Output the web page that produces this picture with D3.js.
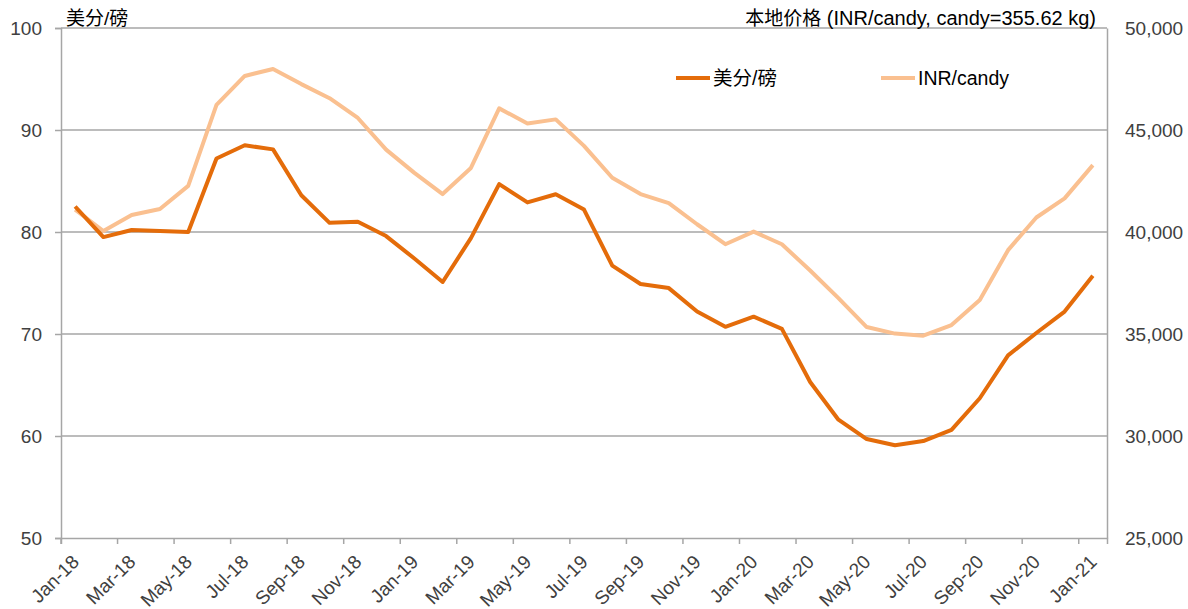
<!DOCTYPE html>
<html><head><meta charset="utf-8">
<script src="https://cdn.jsdelivr.net/npm/d3@7"></script>
<style>
body{margin:0;background:#fff;}
text{font-family:"Liberation Sans",Arial,"Noto Sans CJK SC",sans-serif;}
</style></head>
<body><svg id="c" width="1188" height="609"></svg>
<script>
const months = ["Jan-18","Feb-18","Mar-18","Apr-18","May-18","Jun-18","Jul-18","Aug-18","Sep-18","Oct-18","Nov-18","Dec-18",
"Jan-19","Feb-19","Mar-19","Apr-19","May-19","Jun-19","Jul-19","Aug-19","Sep-19","Oct-19","Nov-19","Dec-19",
"Jan-20","Feb-20","Mar-20","Apr-20","May-20","Jun-20","Jul-20","Aug-20","Sep-20","Oct-20","Nov-20","Dec-20","Jan-21"];
const centsPerLb = [82.5,79.5,80.2,80.1,80.0,87.2,88.5,88.1,83.6,80.9,81.0,79.6,
77.4,75.1,79.4,84.7,82.9,83.7,82.2,76.7,74.9,74.5,72.2,70.7,
71.7,70.5,65.3,61.6,59.7,59.1,59.5,60.6,63.7,67.9,70.1,72.2,75.7];
const inrPerCandy = [41100,40050,40830,41130,42260,46230,47650,47990,47250,46560,45590,44040,
42900,41860,43140,46060,45320,45520,44220,42660,41860,41420,40380,39400,
40020,39400,38110,36760,35340,35020,34920,35440,36670,39110,40710,41650,43280];
const leftTicks = [50,60,70,80,90,100];
const rightTicks = [25000,30000,35000,40000,45000,50000];
const seriesNames = ["美分/磅","INR/candy"];
const leftTitle = "美分/磅";
const rightTitleCJK = "本地价格";
const rightTitleRest = " (INR/candy, candy=355.62 kg)";

const svg = d3.select("#c");
const L=61, R=1107, T=28, B=538;
const x = d3.scaleBand().domain(months).range([L,R]).padding(0);
const yL = d3.scaleLinear().domain([50,100]).range([B,T]);
const yR = d3.scaleLinear().domain([25000,50000]).range([B,T]);
const grid="#a6a6a6", txt="#404040";

// gridlines
svg.append("g").selectAll("line").data(leftTicks.slice(1)).join("line")
  .attr("x1",L).attr("x2",R).attr("y1",d=>yL(d)).attr("y2",d=>yL(d))
  .attr("stroke",grid).attr("stroke-width",1.5);

// left axis
const gl = svg.append("g").attr("transform",`translate(${L},0)`)
  .call(d3.axisLeft(yL).tickValues(leftTicks).tickSize(6).tickPadding(13).tickFormat(d3.format("d")));
// right axis
const gr = svg.append("g").attr("transform",`translate(${R},0)`)
  .call(d3.axisRight(yR).tickValues(rightTicks).tickSize(0).tickPadding(18).tickFormat(d3.format(",")));
// bottom axis
const gb = svg.append("g").attr("transform",`translate(0,${B})`)
  .call(d3.axisBottom(x).tickValues(months.filter((d,i)=>i%2===0)).tickSize(6).tickFormat(""));
gb.selectAll(".tick line").attr("transform",`translate(${-x.bandwidth()/2},0)`);
[gl,gr,gb].forEach(g=>{
  g.select(".domain").attr("stroke",grid).attr("stroke-width",1.5);
  g.selectAll(".tick line").attr("stroke",grid).attr("stroke-width",1.5);
  g.selectAll(".tick text").attr("fill",txt).style("font-size","19px");
});

// x labels
svg.append("g").selectAll("text").data(months.filter((d,i)=>i%2===0)).join("text")
  .attr("transform",d=>`translate(${x(d)+x.bandwidth()/2+5},${B+25}) rotate(-45)`)
  .attr("text-anchor","end")
  .attr("fill",txt).style("font-size","19px").text(d=>d);

// lines
const line1 = d3.line().x((d,i)=>x(months[i])+x.bandwidth()/2).y(d=>yL(d));
const line2 = d3.line().x((d,i)=>x(months[i])+x.bandwidth()/2).y(d=>yR(d));
svg.append("path").datum(inrPerCandy).attr("d",line2).attr("fill","none")
  .attr("stroke","#fac090").attr("stroke-width",4).attr("stroke-linejoin","round");
svg.append("path").datum(centsPerLb).attr("d",line1).attr("fill","none")
  .attr("stroke","#e46c0a").attr("stroke-width",4).attr("stroke-linejoin","round");

// axis titles
svg.append("text").attr("x",66).attr("y",25).attr("fill","#000").style("font-size","19px").text(leftTitle);
const rt = svg.append("text").attr("x",1096).attr("y",25).attr("text-anchor","end").attr("fill","#000");
rt.append("tspan").style("font-size","19px").text(rightTitleCJK);
rt.append("tspan").style("font-size","20px").text(rightTitleRest);

// legend
const leg = [{n:seriesNames[0],c:"#e46c0a",x:676},{n:seriesNames[1],c:"#fac090",x:881}];
const lg = svg.append("g").selectAll("g").data(leg).join("g").attr("transform",d=>`translate(${d.x},78)`);
lg.append("line").attr("x1",0).attr("x2",34).attr("stroke",d=>d.c).attr("stroke-width",4);
lg.append("text").attr("x",37).attr("dy","0.35em").attr("fill","#000").style("font-size","19.5px").text(d=>d.n);
</script></body></html>
